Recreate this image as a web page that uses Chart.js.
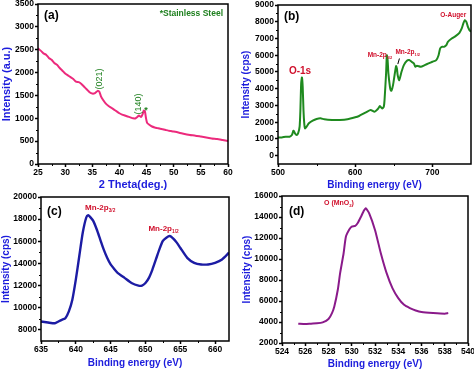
<!DOCTYPE html>
<html>
<head>
<meta charset="utf-8">
<script src="https://cdn.jsdelivr.net/npm/chart.js@4.4.0/dist/chart.umd.min.js"></script>
<style>
  html, body { margin: 0; padding: 0; background: #fff; }
  #wrap { position: relative; width: 474px; height: 371px; overflow: hidden; }
  canvas { position: absolute; left: 0; top: 0; }
</style>
</head>
<body>
<div id="wrap">
  <canvas id="ca" width="474" height="371"></canvas>
  <canvas id="cb" width="474" height="371"></canvas>
  <canvas id="cc" width="474" height="371"></canvas>
  <canvas id="cd" width="474" height="371"></canvas>
</div>
<script>
// (a) XRD
const aTheta = [25, 25.5, 26, 26.5, 27, 27.5, 28, 28.5, 29, 29.5, 30, 30.5, 31, 31.5, 32, 32.5, 33, 33.5, 34, 34.5,
  35, 35.5, 36, 36.3, 36.6, 37, 37.5, 38, 38.5, 39, 39.5, 40, 40.5, 41, 41.5, 42, 42.5, 43, 43.3, 43.6,
  44, 44.3, 44.5, 44.7, 44.9, 45.1, 45.5, 46, 46.5, 47, 47.5, 48, 48.5, 49, 49.5, 50, 51, 52, 53, 54,
  55, 56, 57, 58, 59, 60];
const aIntensity = [2530, 2480, 2420, 2390, 2320, 2280, 2210, 2170, 2100, 2040, 1980, 1940, 1900, 1860, 1800, 1790, 1750, 1690, 1630, 1570,
  1540, 1550, 1600, 1580, 1480, 1400, 1320, 1270, 1230, 1190, 1150, 1110, 1080, 1060, 1040, 1020, 1000, 1000, 1030, 1060,
  1030, 1100, 1170, 1150, 1000, 900, 860, 820, 800, 785, 770, 760, 745, 730, 720, 710, 685, 655, 635, 620,
  600, 580, 560, 545, 525, 505];
const aXTicks = [25, 30, 35, 40, 45, 50, 55, 60];
const aYTicks = [0, 500, 1000, 1500, 2000, 2500, 3000, 3500];

// (b) XPS survey
const bEnergy = [500, 505, 510, 515, 518, 520, 521, 522, 524, 526, 528, 529, 530, 531, 532, 533, 534, 535, 537, 540,
  545, 550, 555, 560, 570, 580, 590, 600, 605, 610, 615, 620, 625, 628, 630, 632, 635, 637, 638, 640,
  641, 642, 643, 645, 646, 647, 649, 651, 653, 654, 655, 657, 660, 663, 667, 670, 673, 676, 678, 680,
  685, 690, 695, 700, 705, 708, 710, 712, 715, 718, 720, 725, 730, 735, 738, 740, 742, 744, 746, 748, 750];
const bCps = [1090, 1090, 1130, 1130, 1230, 1490, 1430, 1330, 1230, 1330, 1730, 2720, 4310, 4670, 4110, 2720, 1930, 1630, 1730, 1930,
  2090, 2190, 2230, 2170, 2130, 2130, 2170, 2290, 2370, 2490, 2620, 2720, 2620, 2720, 2820, 2960, 2820, 2920, 3320, 4910,
  6000, 5710, 4910, 4110, 3910, 3880, 4210, 4810, 5350, 5210, 4810, 4510, 5010, 5410, 5670, 5710, 5610, 5510, 5310, 5370,
  5310, 5410, 5510, 5610, 5710, 6000, 6400, 6500, 6500, 6600, 6800, 7000, 7140, 7340, 7600, 7890, 8090, 7990, 7690, 7500, 7400];
const bXTicks = [500, 600, 700];
const bYTicks = [0, 1000, 2000, 3000, 4000, 5000, 6000, 7000, 8000, 9000];

// (c) Mn 2p
const cEnergy = [635, 636, 637, 637.5, 638, 638.5, 639, 639.5, 640, 640.5, 641, 641.5, 641.8, 642, 642.5, 643, 643.5, 644, 644.5, 645,
  645.5, 646, 647, 648, 649, 649.5, 650, 650.5, 651, 651.5, 652, 652.5, 653, 653.5, 654, 654.5, 655, 656, 657, 658,
  659, 660, 661, 662];
const cCps = [8760, 8670, 8600, 8760, 8910, 9060, 9670, 10730, 12540, 14670, 16790, 18150, 18360, 18240, 17850, 17090, 16180, 15270, 14510, 13910,
  13510, 13150, 12700, 12240, 12000, 12000, 12240, 12700, 13450, 14360, 15270, 16030, 16330, 16480, 16240, 15880, 15420, 14510, 14060, 13910,
  13910, 14060, 14360, 14970];
const cXTicks = [635, 640, 645, 650, 655, 660];
const cYTicks = [8000, 10000, 12000, 14000, 16000, 18000, 20000];

// (d) O 1s
const dEnergy = [525.4, 526, 526.5, 527, 527.5, 528, 528.3, 528.5, 528.8, 529, 529.3, 529.5, 529.8, 530, 530.3, 530.5, 530.8, 531, 531.2, 531.5,
  532, 532.5, 533, 533.5, 534, 534.5, 535, 535.5, 536, 537, 538, 538.3];
const dCps = [3840, 3800, 3840, 3870, 3960, 4280, 4850, 5480, 7070, 8650, 10550, 12140, 12830, 13090, 13150, 13400, 14040, 14510, 14830, 14350,
  12770, 10550, 8650, 7230, 6280, 5640, 5330, 5100, 4950, 4850, 4790, 4850];
const dXTicks = [524, 526, 528, 530, 532, 534, 536, 538, 540];
const dYTicks = [2000, 4000, 6000, 8000, 10000, 12000, 14000, 16000];

const TITLE_BLUE = '#1c1cdc';
const RED = '#d0102c';
const GREEN_TXT = '#1f801f';
const FONT = "'Liberation Sans', Arial, sans-serif";

// frame, minor ticks and text labels
const framePlugin = {
  id: 'frame',
  afterDraw(chart, args, opts) {
    const {ctx, chartArea: a, scales: {x, y}} = chart;
    ctx.save();
    ctx.strokeStyle = '#000';
    ctx.lineWidth = 1.5;
    ctx.strokeRect(a.left, a.top, a.right - a.left, a.bottom - a.top);
    ctx.lineWidth = 1;
    ctx.beginPath();
    const xt = x.ticks.map(t => t.value);
    for (let i = 0; i < xt.length - 1; i++) {
      const px = Math.round(x.getPixelForValue((xt[i] + xt[i + 1]) / 2)) + 0.5;
      ctx.moveTo(px, a.bottom); ctx.lineTo(px, a.bottom + 2);
    }
    const yt = y.ticks.map(t => t.value);
    for (let i = 0; i < yt.length - 1; i++) {
      const py = Math.round(y.getPixelForValue((yt[i] + yt[i + 1]) / 2)) + 0.5;
      ctx.moveTo(a.left, py); ctx.lineTo(a.left - 2, py);
    }
    ctx.stroke();

    (opts.labels || []).forEach(l => {
      let px, py;
      if (l.rel) { px = a.left + l.rel[0]; py = a.top + l.rel[1]; }
      else { px = x.getPixelForValue(l.x); py = y.getPixelForValue(l.y); }
      const parts = l.parts || [{t: l.text}];
      const size = l.size || 9;
      const fontOf = p => (l.bold === false ? '' : 'bold ') + (p.sub ? size * 0.6 : size) + 'px ' + FONT;
      let total = 0;
      parts.forEach(p => { ctx.font = fontOf(p); p.w = ctx.measureText(p.t).width; total += p.w; });
      ctx.save();
      ctx.translate(px, py);
      if (l.rotate) ctx.rotate(l.rotate);
      ctx.fillStyle = l.color || '#000';
      ctx.textBaseline = 'middle';
      ctx.textAlign = 'left';
      let cx = l.align === 'left' ? 0 : l.align === 'right' ? -total : -total / 2;
      parts.forEach(p => {
        ctx.font = fontOf(p);
        ctx.fillText(p.t, cx, p.sub ? size * 0.35 : 0);
        cx += p.w;
      });
      ctx.restore();
    });

    (opts.lines || []).forEach(s => {
      ctx.strokeStyle = '#000';
      ctx.lineWidth = 1;
      ctx.beginPath();
      ctx.moveTo(x.getPixelForValue(s[0]), y.getPixelForValue(s[1]));
      ctx.lineTo(x.getPixelForValue(s[2]), y.getPixelForValue(s[3]));
      ctx.stroke();
    });
    ctx.restore();
  }
};

function axis(min, max, ticks, title, titleSize, fit) {
  return {
    type: 'linear',
    min: min,
    max: max,
    afterBuildTicks: s => { s.ticks = ticks.map(v => ({value: v})); },
    afterFit: fit,
    border: {display: false},
    grid: {drawOnChartArea: false, drawTicks: true, tickLength: 3, tickColor: '#000', tickWidth: 1.5},
    ticks: {
      color: '#000', padding: 1, maxRotation: 0, autoSkip: false,
      font: {family: FONT, size: 8.5, weight: 'bold'},
      callback: v => String(v)
    },
    title: {
      display: true, text: title, color: TITLE_BLUE, padding: {top: 0, bottom: 0},
      font: {family: FONT, size: titleSize, weight: 'bold'}
    }
  };
}

function panel(id, xs, ys, color, width, box, xr, yr, xTicks, yTicks, xTitle, yTitle, sizes, labels, lines) {
  new Chart(document.getElementById(id), {
    type: 'line',
    data: {
      datasets: [{
        data: xs.map((v, i) => ({x: v, y: ys[i]})),
        borderColor: color,
        borderWidth: width,
        pointRadius: 0,
        tension: 0.2,
        fill: false
      }]
    },
    options: {
      responsive: false,
      animation: false,
      devicePixelRatio: 1,
      layout: {padding: box.pad},
      plugins: {legend: {display: false}, tooltip: {enabled: false}, frame: {labels: labels, lines: lines || []}},
      scales: {
        x: axis(xr[0], xr[1], xTicks, xTitle, sizes[0], s => { s.height = box.xh; s.paddingLeft = 0; s.paddingRight = 0; }),
        y: axis(yr[0], yr[1], yTicks, yTitle, sizes[1], s => { s.width = box.yw; s.paddingTop = 0; s.paddingBottom = 0; })
      }
    },
    plugins: [framePlugin]
  });
}

panel('ca', aTheta, aIntensity, '#ec2a7c', 2,
  {pad: {left: 0, right: 246, top: 4, bottom: 179.4}, xh: 27.6, yw: 38},
  [25, 60], [0, 3500], aXTicks, aYTicks, '2 Theta(deg.)', 'Intensity (a.u.)', [11, 11],
  [
    {text: '(a)', rel: [6, 12], size: 12, align: 'left'},
    {text: '*Stainless Steel', rel: [185, 9.5], size: 8.5, color: GREEN_TXT, align: 'right'},
    {text: '(021)', x: 36.4, y: 1860, size: 9, bold: false, color: GREEN_TXT, rotate: -Math.PI / 2},
    {text: '(140)', x: 43.6, y: 1312, size: 9, bold: false, color: GREEN_TXT, rotate: -Math.PI / 2},
    {text: '*', x: 44.9, y: 1180, size: 9, color: GREEN_TXT}
  ]);

panel('cb', bEnergy, bCps, '#1f8a1f', 2,
  {pad: {left: 240, right: 3, top: 5, bottom: 180}, xh: 27, yw: 38},
  [500, 750], [-500, 9000], bXTicks, bYTicks, 'Binding energy (eV)', 'Intensity (cps)', [10, 10],
  [
    {text: '(b)', rel: [6, 12], size: 12, align: 'left'},
    {text: 'O-1s', x: 528.5, y: 5050, size: 10, color: RED},
    {parts: [{t: 'Mn-2p'}, {t: '3/2', sub: true}], x: 632, y: 6000, size: 6.5, color: RED},
    {parts: [{t: 'Mn-2p'}, {t: '1/2', sub: true}], x: 668, y: 6160, size: 6.5, color: RED},
    {text: 'O-Auger', x: 727, y: 8390, size: 6.5, color: RED}
  ],
  [[655.2, 5470, 657.3, 5805]]);

panel('cc', cEnergy, cCps, '#1c1ca4', 2.4,
  {pad: {left: 0, right: 245, top: 197, bottom: 2}, xh: 28, yw: 41},
  [635, 662], [7000, 20000], cXTicks, cYTicks, 'Binding energy (eV)', 'Intensity (cps)', [10, 10],
  [
    {text: '(c)', rel: [6, 15], size: 12, align: 'left'},
    {parts: [{t: 'Mn-2p'}, {t: '3/2', sub: true}], x: 643.5, y: 19060, size: 8, color: RED},
    {parts: [{t: 'Mn-2p'}, {t: '1/2', sub: true}], x: 652.6, y: 17150, size: 8, color: RED}
  ]);

panel('cd', dEnergy, dCps, '#8a1a8a', 2,
  {pad: {left: 241, right: 6, top: 196, bottom: 1}, xh: 27, yw: 41},
  [524, 540], [2000, 16000], dXTicks, dYTicks, 'Binding energy (eV)', 'Intensity (cps)', [10, 10],
  [
    {text: '(d)', rel: [7, 16], size: 12, align: 'left'},
    {parts: [{t: 'O (MnO'}, {t: '2', sub: true}, {t: ')'}], x: 528.9, y: 15300, size: 7, color: RED}
  ]);
</script>
</body>
</html>
